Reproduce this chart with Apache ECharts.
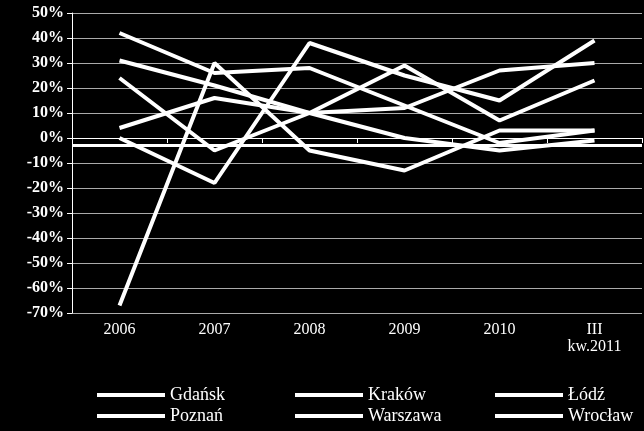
<!DOCTYPE html><html><head><meta charset="utf-8"><script src="https://cdn.jsdelivr.net/npm/echarts@6/dist/echarts.min.js"></script></head><body style="margin:0;background:#000"><div id="c" style="width:644px;height:431px"></div><script>
var categories=['2006','2007','2008','2009','2010','III\nkw.2011'];
var gdansk=[42,26,28,13,-2,3];
var krakow=[31,21,10,0,-5,-1];
var lodz=[24,-5,10,29,7,23];
var poznan=[4,16,10,12,27,30];
var warszawa=[0,-18,38,25,15,39];
var wroclaw=[-67,30,-5,-13,3,3];
var refLine=-3;
var names=['Gdańsk','Kraków','Łódź','Poznań','Warszawa','Wrocław'];
var data=[gdansk,krakow,lodz,poznan,warszawa,wroclaw];
var ff='"Liberation Serif","DejaVu Serif",serif';
var lpos=[[92,381],[290,381],[490,381],[92,402],[290,402],[490,402]];
var series=names.map(function(n,i){var s={name:n,type:'line',data:data[i],symbol:'none',lineStyle:{color:'#fff',width:4},itemStyle:{color:'#fff'}};
if(i===0)s.markLine={silent:true,symbol:'none',label:{show:false},lineStyle:{color:'#fff',width:3,type:'solid'},data:[{yAxis:refLine}]};return s;});
var legends=names.map(function(n,i){return {data:[n],left:lpos[i][0],top:lpos[i][1],itemWidth:68,itemHeight:4,itemGap:6,icon:'rect',textStyle:{color:'#fff',fontFamily:ff,fontSize:18}};});
echarts.init(document.getElementById('c')).setOption({backgroundColor:'#000',animation:false,
legend:legends,
grid:{left:72,right:2,top:13,bottom:118},
xAxis:{type:'category',data:categories,axisLine:{lineStyle:{color:'#fff'}},axisTick:{show:true,length:5,lineStyle:{color:'#fff'}},axisLabel:{color:'#fff',fontFamily:ff,fontSize:16,lineHeight:17}},
yAxis:{type:'value',min:-70,max:50,interval:10,axisLine:{show:true,lineStyle:{color:'#fff'}},axisTick:{show:true,lineStyle:{color:'#fff'}},splitLine:{lineStyle:{color:'#aaa'}},axisLabel:{color:'#fff',fontFamily:ff,fontSize:16,fontWeight:'bold',formatter:'{value}%'}},
series:series});
</script></body></html>
